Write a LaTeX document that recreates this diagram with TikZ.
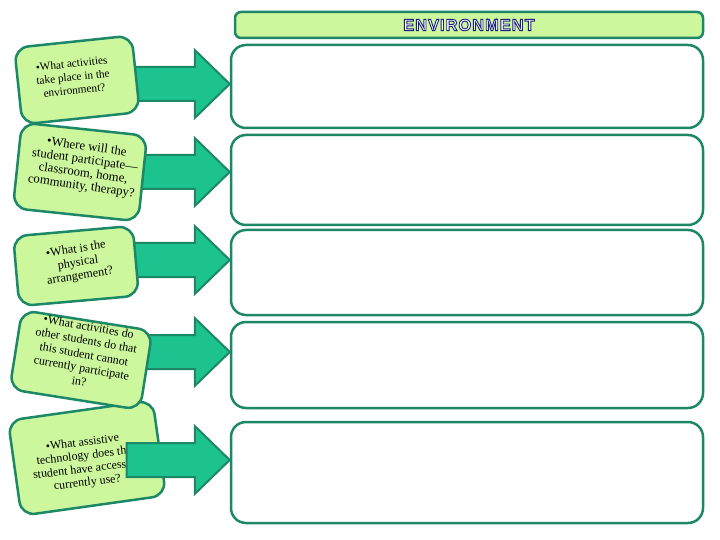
\documentclass[tikz,border=0pt]{standalone}
\usepackage{fontspec}
\setmainfont{Liberation Serif}
\newfontfamily\titlefont{Liberation Sans}[LetterSpace=6]
\definecolor{edge}{HTML}{1D8868}
\definecolor{cardfill}{HTML}{CCF79C}
\definecolor{arrowfill}{HTML}{1CC38E}
\definecolor{navy}{HTML}{1B1F80}
\newcommand\outlinetext[1]{\special{pdf:literal direct 2 Tr 0.9 w 0.106 0.122 0.502 RG}#1\special{pdf:literal direct 0 Tr 0.4 w}}
\tikzset{
  cardbox/.style={draw=edge, fill=cardfill, line width=2.5bp, rounded corners=14bp, inner sep=0pt},
  rbox/.style={draw=edge, fill=white, line width=2.5bp, rounded corners=15bp, inner sep=0pt},
  titlebox/.style={draw=edge, fill=cardfill, line width=2.5bp, rounded corners=6bp, inner sep=0pt},
  blockarrow/.style={draw=edge, fill=arrowfill, line width=2bp, line join=miter},
  qtext/.style={align=center, inner sep=0pt, text=black},
  ttext/.style={inner sep=0pt, text=white, font=\titlefont\bfseries\fontsize{16.5}{16.5}\selectfont}
}
\begin{document}
\begin{tikzpicture}[x=1bp, y=-1bp]
\useasboundingbox (0,0) rectangle (720,540);
\fill[white] (0,0) rectangle (720,540);

% title
\node[titlebox, minimum width=468bp, minimum height=26bp] (title) at (469,25) {};
\node[ttext] (ttw) at (title.center) {\outlinetext{ENVIRONMENT}};

% right boxes
\node[rbox, minimum width=472bp, minimum height=83bp] (b1) at (467,86.5) {};
\node[rbox, minimum width=472bp, minimum height=90bp] (b2) at (467,180) {};
\node[rbox, minimum width=472bp, minimum height=85bp] (b3) at (467,272.5) {};
\node[rbox, minimum width=472bp, minimum height=86bp] (b4) at (467,365) {};
\node[rbox, minimum width=472bp, minimum height=101bp] (b5) at (467,472.5) {};

% arrow tips on the boxes
\coordinate (t1) at (b1.west |- 0,84);
\coordinate (t2) at (b2.west |- 0,172);
\coordinate (t3) at (b3.west |- 0,260);
\coordinate (t4) at (b4.west |- 0,352);
\coordinate (t5) at (b5.west |- 0,460);

% arrows behind the cards
\foreach \t in {t1,t2,t3,t4}
  \draw[blockarrow] (\t) -- ++(-35,-34) -- ++(0,17) -- ++(-68,0) -- ++(0,34) -- ++(68,0) -- ++(0,17) -- cycle;

% card 5 and its arrow
\node[cardbox, rotate=8, minimum width=146bp, minimum height=96bp] (c5) at (87,458) {};
\node[qtext, rotate=7, font=\fontsize{12}{13.5}\selectfont] (q5) at (85,463)
  {•What assistive\\technology does the\\student have access to\\currently use?};
\draw[blockarrow] (t5) -- ++(-35,-34) -- ++(0,17) -- ++(-68,0) -- ++(0,34) -- ++(68,0) -- ++(0,17) -- cycle;

% card 4
\node[cardbox, rotate=-9, minimum width=132bp, minimum height=80bp] (c4) at (81,360) {};
\node[qtext, rotate=-10, font=\fontsize{12}{14}\selectfont] (q4) at (84,354)
  {•What activities do\\other students do that\\this student cannot\\currently participate\\in?};

% card 3
\node[cardbox, rotate=5, minimum width=120bp, minimum height=70bp] (c3) at (76,266) {};
\node[qtext, rotate=9, font=\fontsize{12.3}{13.5}\selectfont] (q3) at (78,263)
  {•What is the\\physical\\arrangement?};

% card 2
\node[cardbox, rotate=-6, minimum width=126bp, minimum height=86bp] (c2) at (80,172) {};
\node[qtext, rotate=-8, font=\fontsize{12.8}{13.2}\selectfont] (q2) at (84,167)
  {•Where will the\\student participate—\\classroom, home,\\community, therapy?};

% card 1
\node[cardbox, rotate=6, minimum width=118bp, minimum height=77bp] (c1) at (77,80) {};
\node[qtext, rotate=6, font=\fontsize{11.3}{13.5}\selectfont] (q1) at (73,77)
  {•What activities\\take place in the\\environment?};
\end{tikzpicture}
\end{document}
